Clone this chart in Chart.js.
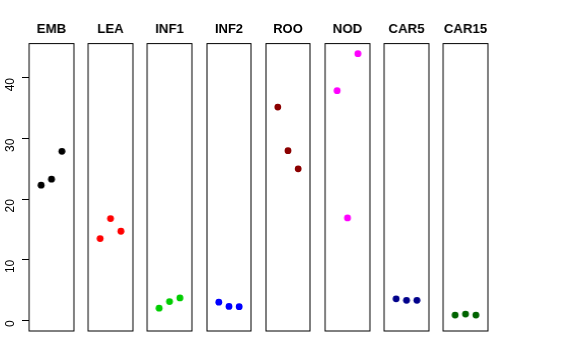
<!DOCTYPE html>
<html>
<head>
<meta charset="utf-8">
<script src="https://cdn.jsdelivr.net/npm/chart.js@4"></script>
<style>
  body { margin: 0; background: #fff; }
  #wrap { position: relative; width: 576px; height: 360px; }
  #wrap canvas { position: absolute; top: 0; }
</style>
</head>
<body>
<div id="wrap"></div>
<script>
var groups = ['EMB', 'LEA', 'INF1', 'INF2', 'ROO', 'NOD', 'CAR5', 'CAR15'];
var colors = ['#000000', '#FF0000', '#00CD00', '#0000FF', '#8B0000', '#FF00FF', '#00008B', '#006400'];
var EMB = [22.3, 23.3, 27.9];
var LEA = [13.5, 16.8, 14.7];
var INF1 = [2.0, 3.1, 3.7];
var INF2 = [3.0, 2.3, 2.25];
var ROO = [35.2, 28.0, 25.0];
var NOD = [37.9, 16.9, 44.0];
var CAR5 = [3.55, 3.3, 3.3];
var CAR15 = [0.87, 1.04, 0.87];
var values = [EMB, LEA, INF1, INF2, ROO, NOD, CAR5, CAR15];
var yTicks = [0, 10, 20, 30, 40];

var yMin = -1.76, yMax = 45.67;
var panelLeft = 29, panelStep = 59.2, panelW = 44.5;
var plotTop = 43.6, plotBottom = 29;
var wrap = document.getElementById('wrap');

function addCanvas(left, width) {
    var canvas = document.createElement('canvas');
    canvas.style.left = left + 'px';
    canvas.width = width;
    canvas.height = 360;
    canvas.style.width = width + 'px';
    canvas.style.height = '360px';
    wrap.appendChild(canvas);
    return canvas.getContext('2d');
}

// box round each panel
var boxPlugin = {
    id: 'box',
    afterDraw: function(chart) {
        var a = chart.chartArea, c = chart.ctx;
        c.save();
        c.strokeStyle = '#000';
        c.lineWidth = 1;
        c.strokeRect(a.left, a.top, a.right - a.left, a.bottom - a.top);
        c.restore();
    }
};

// shared y axis, left of the first panel
new Chart(addCanvas(0, panelLeft + 1), {
    type: 'scatter',
    data: { datasets: [{ data: [] }] },
    options: {
        responsive: false,
        animation: false,
        events: [],
        layout: { padding: { left: 0, right: 0, top: plotTop, bottom: plotBottom } },
        plugins: { legend: { display: false }, tooltip: { enabled: false } },
        scales: {
            x: { type: 'linear', min: 0, max: 1, display: false },
            y: {
                type: 'linear',
                min: yMin,
                max: yMax,
                afterBuildTicks: function(s) { s.ticks = yTicks.map(function(v) { return { value: v }; }); },
                afterFit: function(s) { s.width = panelLeft; },
                border: { display: false },
                grid: { drawOnChartArea: false, tickLength: 7, color: '#000' },
                ticks: {
                    color: '#000',
                    minRotation: 90,
                    maxRotation: 90,
                    padding: 11,
                    font: { family: 'Liberation Sans', size: 12 }
                }
            }
        }
    }
});

groups.forEach(function(name, k) {
    var pad = 4;
    var ctx = addCanvas(panelLeft + k * panelStep - pad, panelW + 2 * pad);
    new Chart(ctx, {
        type: 'scatter',
        data: {
            datasets: [{
                data: values[k].map(function(v, i) { return { x: i + 1, y: v }; }),
                backgroundColor: colors[k],
                borderColor: colors[k],
                pointRadius: 3.4,
                pointBorderWidth: 0
            }]
        },
        options: {
            responsive: false,
            animation: false,
            events: [],
            layout: { padding: { left: pad, right: pad, top: 0, bottom: plotBottom } },
            plugins: {
                legend: { display: false },
                tooltip: { enabled: false },
                title: {
                    display: true,
                    text: name,
                    color: '#000',
                    font: { family: 'Liberation Sans', size: 13, weight: 'bold' },
                    padding: { top: 22, bottom: 6 }
                }
            },
            scales: {
                x: { type: 'linear', min: -0.16, max: 4.16, display: false },
                y: { type: 'linear', min: yMin, max: yMax, display: false }
            }
        },
        plugins: [boxPlugin]
    });
});
</script>
</body>
</html>
